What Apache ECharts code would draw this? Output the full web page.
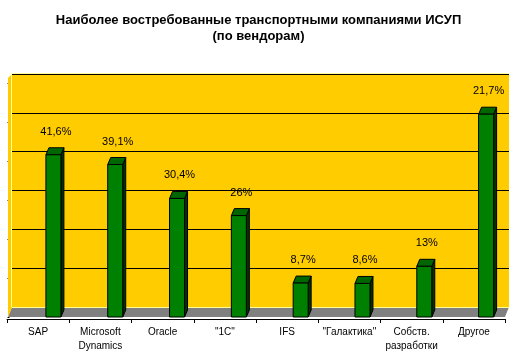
<!DOCTYPE html>
<html lang="ru">
<head>
<meta charset="UTF-8">
<title>ИСУП по вендорам</title>
<script src="https://cdn.jsdelivr.net/npm/echarts@6/dist/echarts.min.js"></script>
<style>
    html, body { margin: 0; padding: 0; background: #ffffff; }
    #chart { width: 517px; height: 354px; }
</style>
</head>
<body>
<div id="chart"></div>
<script>
    // данные
    const vendors = ['SAP', 'Microsoft\nDynamics', 'Oracle', '"1С"', 'IFS', '"Галактика"', 'Собств.\nразработки', 'Другое'];
    const heights = [41.6, 39.1, 30.4, 26, 8.7, 8.6, 13, 52];   // высота столбцов, как нарисовано
    const labels = ['41,6%', '39,1%', '30,4%', '26%', '8,7%', '8,6%', '13%', '21,7%'];
    const yMax = 60;
    const yStep = 10;

    const font = "'Liberation Sans', Arial, sans-serif";
    const chart = echarts.init(document.getElementById('chart'));

    // задняя стенка, передняя ось, столбцы
    const wall = { left: 12, top: 74, width: 497, height: 233 };
    const axisG = { left: 7, top: 84, width: 498, height: 235 };
    const barG = { left: 22.5, top: 83, width: 498, height: 234 };
    const bw = 15, dx = 3, dy = 7;

    function renderBar(params, api) {
        const c = api.coord([api.value(0), api.value(1)]);
        const base = api.coord([api.value(0), 0]);
        const x0 = c[0] - bw / 2, x1 = c[0] + bw / 2;
        const yt = c[1], yb = base[1];
        const st = { stroke: '#000', lineWidth: 1 };
        return {
            type: 'group',
            children: [
                { type: 'polygon', shape: { points: [[x1, yt], [x1 + dx, yt - dy], [x1 + dx, yb - dy], [x1, yb]] },
                  style: Object.assign({ fill: '#003300' }, st) },
                { type: 'polygon', shape: { points: [[x0, yt], [x0 + dx, yt - dy], [x1 + dx, yt - dy], [x1, yt]] },
                  style: Object.assign({ fill: '#006600' }, st) },
                { type: 'rect', shape: { x: x0, y: yt, width: bw, height: yb - yt },
                  style: Object.assign({ fill: '#008000' }, st) },
                { type: 'text', x: c[0] + 2.5, y: yt - dy - 16,
                  style: { text: labels[params.dataIndex], fill: '#000', font: '11px ' + font,
                           align: 'center', verticalAlign: 'middle' } }
            ]
        };
    }

    const option = {
        backgroundColor: '#ffffff',
        animation: false,
        title: {
            text: 'Наиболее востребованные транспортными компаниями ИСУП\n(по вендорам)',
            left: 'center',
            top: 7,
            textStyle: { fontFamily: font, fontSize: 13, fontWeight: 'bold', lineHeight: 16, color: '#000' }
        },
        grid: [
            Object.assign({ show: true, backgroundColor: '#FFCC00', borderWidth: 0 }, wall),
            axisG,
            barG
        ],
        xAxis: [
            { gridIndex: 0, type: 'category', data: vendors, show: false },
            { gridIndex: 1, type: 'category', data: vendors,
              axisLine: { lineStyle: { color: '#000', width: 1 } },
              axisTick: { show: true, length: 4, interval: 0, lineStyle: { color: '#000' } },
              axisLabel: { interval: 0, margin: 6, fontFamily: font, fontSize: 10, lineHeight: 14, color: '#000' } },
            { gridIndex: 2, type: 'category', data: vendors, show: false }
        ],
        yAxis: [
            { gridIndex: 0, type: 'value', min: 0, max: yMax, interval: yStep,
              axisLine: { show: false }, axisTick: { show: false }, axisLabel: { show: false },
              splitLine: { lineStyle: { color: '#000', width: 1 } } },
            { gridIndex: 1, type: 'value', min: 0, max: yMax, show: false },
            { gridIndex: 2, type: 'value', min: 0, max: yMax, interval: yStep, offset: 13,
              axisLine: { show: false }, axisLabel: { show: false }, splitLine: { show: false },
              axisTick: { show: true, length: 2, lineStyle: { color: '#000' } } }
        ],
        series: [{
            type: 'custom',
            xAxisIndex: 2,
            yAxisIndex: 2,
            renderItem: renderBar,
            data: heights.map((v, i) => [i, v]),
            z: 10
        }],
        graphic: [
            // пол
            { type: 'polygon', z: 1, shape: { points: [
                [wall.left, wall.top + wall.height], [wall.left + wall.width, wall.top + wall.height],
                [axisG.left + axisG.width, barG.top + barG.height], [axisG.left + 1, barG.top + barG.height]] },
              style: { fill: '#808080' } },
            // левая стенка
            { type: 'polygon', z: 1, shape: { points: [
                [wall.left, wall.top], [wall.left, wall.top + wall.height],
                [axisG.left + 1, barG.top + barG.height], [axisG.left + 1, wall.top + 4]] },
              style: { fill: '#FFCC00' } },
            { type: 'polyline', z: 2, shape: { points: [
                [wall.left - 0.5, wall.top + wall.height], [wall.left - 0.5, wall.top - 0.5], [wall.left + wall.width, wall.top - 0.5]] },
              style: { stroke: '#FFFF99', lineWidth: 1, fill: null } },
            { type: 'line', z: 2, shape: { x1: wall.left, y1: wall.top + wall.height + 0.5, x2: wall.left + wall.width, y2: wall.top + wall.height + 0.5 },
              style: { stroke: '#FFFF99', lineWidth: 1 } }
        ]
    };
    chart.setOption(option);
</script>
</body>
</html>
